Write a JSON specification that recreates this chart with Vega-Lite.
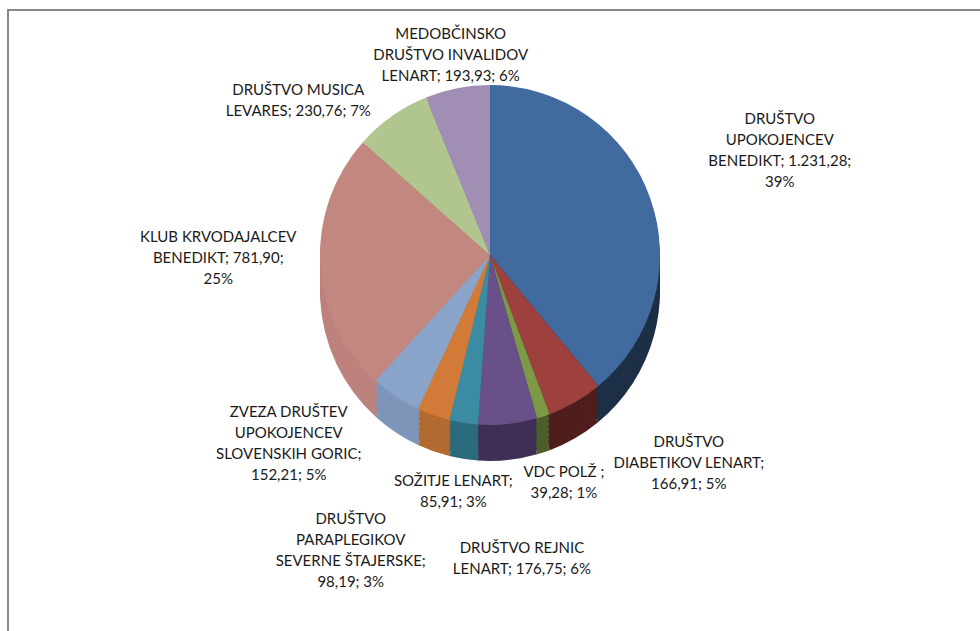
{
  "$schema": "https://vega.github.io/schema/vega-lite/v6.json",
  "autosize": "none",
  "width": 990,
  "height": 640,
  "padding": {"left": 8, "top": 10, "right": 0, "bottom": 0},
  "background": "white",
  "view": {"stroke": "#8a8a8a", "strokeWidth": 2, "fill": "white"},
  "config": {"view": {"stroke": "#8a8a8a", "strokeWidth": 2}},
  "data": {"values": [
    {"i": 1, "k": "a", "value": 1231.28, "label": "DRUŠTVO\nUPOKOJENCEV\nBENEDIKT; 1.231,28;\n39%"},
    {"i": 2, "k": "b", "value": 166.91, "label": "DRUŠTVO\nDIABETIKOV LENART;\n166,91; 5%"},
    {"i": 3, "k": "c", "value": 39.28, "label": "VDC POLŽ ;\n39,28; 1%"},
    {"i": 4, "k": "d", "value": 176.75, "label": "DRUŠTVO REJNIC\nLENART; 176,75; 6%"},
    {"i": 5, "k": "e", "value": 85.91, "label": "SOŽITJE LENART;\n85,91; 3%"},
    {"i": 6, "k": "f", "value": 98.19, "label": "DRUŠTVO\nPARAPLEGIKOV\nSEVERNE ŠTAJERSKE;\n98,19; 3%"},
    {"i": 7, "k": "g", "value": 152.21, "label": "ZVEZA DRUŠTEV\nUPOKOJENCEV\nSLOVENSKIH GORIC;\n152,21; 5%"},
    {"i": 8, "k": "h", "value": 781.90, "label": "KLUB KRVODAJALCEV\nBENEDIKT; 781,90;\n25%"},
    {"i": 9, "k": "j", "value": 230.76, "label": "DRUŠTVO MUSICA\nLEVARES; 230,76; 7%"},
    {"i": 10, "k": "m", "value": 193.93, "label": "MEDOBČINSKO\nDRUŠTVO INVALIDOV\nLENART; 193,93; 6%"}
  ]},
  "encoding": {
    "theta": {"field": "value", "type": "quantitative", "stack": true},
    "order": {"field": "i", "type": "quantitative"}
  },
  "layer": [
    {
      "mark": {"type": "arc", "x": 482, "y": 281, "radius": 170},
      "encoding": {"color": {"field": "k", "type": "nominal", "legend": null,
        "scale": {"domain": ["a","b","c","d","e","f","g","h","j","m"],
                  "range": ["#1d2f46","#4f1d1b","#4d5e2a","#3e2f55","#2b6b7d","#b26a30","#7e95ba","#bd827d","#9aae78","#8a7aa0"]}}}
    },
    {
      "mark": {"type": "arc", "x": 482, "y": 276, "radius": 170},
      "encoding": {"color": {"field": "k", "type": "nominal", "legend": null,
        "scale": {"domain": ["a","b","c","d","e","f","g","h","j","m"],
                  "range": ["#1d2f46","#4f1d1b","#4d5e2a","#3e2f55","#2b6b7d","#b26a30","#7e95ba","#bd827d","#9aae78","#8a7aa0"]}}}
    },
    {
      "mark": {"type": "arc", "x": 482, "y": 271, "radius": 170},
      "encoding": {"color": {"field": "k", "type": "nominal", "legend": null,
        "scale": {"domain": ["a","b","c","d","e","f","g","h","j","m"],
                  "range": ["#1d2f46","#4f1d1b","#4d5e2a","#3e2f55","#2b6b7d","#b26a30","#7e95ba","#bd827d","#9aae78","#8a7aa0"]}}}
    },
    {
      "mark": {"type": "arc", "x": 482, "y": 266, "radius": 170},
      "encoding": {"color": {"field": "k", "type": "nominal", "legend": null,
        "scale": {"domain": ["a","b","c","d","e","f","g","h","j","m"],
                  "range": ["#1d2f46","#4f1d1b","#4d5e2a","#3e2f55","#2b6b7d","#b26a30","#7e95ba","#bd827d","#9aae78","#8a7aa0"]}}}
    },
    {
      "mark": {"type": "arc", "x": 482, "y": 261, "radius": 170},
      "encoding": {"color": {"field": "k", "type": "nominal", "legend": null,
        "scale": {"domain": ["a","b","c","d","e","f","g","h","j","m"],
                  "range": ["#1d2f46","#4f1d1b","#4d5e2a","#3e2f55","#2b6b7d","#b26a30","#7e95ba","#bd827d","#9aae78","#8a7aa0"]}}}
    },
    {
      "mark": {"type": "arc", "x": 482, "y": 256, "radius": 170},
      "encoding": {"color": {"field": "k", "type": "nominal", "legend": null,
        "scale": {"domain": ["a","b","c","d","e","f","g","h","j","m"],
                  "range": ["#1d2f46","#4f1d1b","#4d5e2a","#3e2f55","#2b6b7d","#b26a30","#7e95ba","#bd827d","#9aae78","#8a7aa0"]}}}
    },
    {
      "mark": {"type": "arc", "x": 482, "y": 251, "radius": 170},
      "encoding": {"color": {"field": "k", "type": "nominal", "legend": null,
        "scale": {"domain": ["a","b","c","d","e","f","g","h","j","m"],
                  "range": ["#1d2f46","#4f1d1b","#4d5e2a","#3e2f55","#2b6b7d","#b26a30","#7e95ba","#bd827d","#9aae78","#8a7aa0"]}}}
    },
    {
      "mark": {"type": "arc", "x": 482, "y": 245, "radius": 170},
      "encoding": {"color": {"field": "k", "type": "nominal", "legend": null,
        "scale": {"domain": ["a","b","c","d","e","f","g","h","j","m"],
                  "range": ["#416a9e","#9e413e","#7d9945","#6a5088","#3b8ca2","#d27a38","#8aa3c9","#c2877f","#b0c68e","#a08eb4"]}}}
    },
    {
      "mark": {"type": "text", "x": 482, "y": 245, "radius": 308, "dy": -32, "align": "center", "baseline": "middle", "lineBreak": "\n", "font": "Lato", "fontSize": 15, "lineHeight": 21, "color": "#1a1a1a"},
      "encoding": {"text": {"condition": {"test": "datum.k == 'a'", "field": "label"}, "value": ""}}
    },
    {
      "mark": {"type": "text", "x": 482, "y": 245, "radius": 305, "dy": -10, "align": "center", "baseline": "middle", "lineBreak": "\n", "font": "Lato", "fontSize": 15, "lineHeight": 21, "color": "#1a1a1a"},
      "encoding": {"text": {"condition": {"test": "datum.k == 'd'", "field": "label"}, "value": ""}}
    },
    {
      "mark": {"type": "text", "x": 482, "y": 245, "radius": 237, "dx": 80, "dy": -18, "align": "center", "baseline": "middle", "lineBreak": "\n", "font": "Lato", "fontSize": 15, "lineHeight": 21, "color": "#1a1a1a"},
      "encoding": {"text": {"condition": {"test": "datum.k == 'b'", "field": "label"}, "value": ""}}
    },
    {
      "mark": {"type": "text", "x": 482, "y": 245, "radius": 235, "dy": -6, "align": "center", "baseline": "middle", "lineBreak": "\n", "font": "Lato", "fontSize": 15, "lineHeight": 21, "color": "#1a1a1a"},
      "encoding": {"text": {"condition": {"test": "datum.k == 'c' || datum.k == 'e'", "field": "label"}, "value": ""}}
    },
    {
      "mark": {"type": "text", "x": 482, "y": 245, "radius": 310, "dx": -36, "dy": -28, "align": "center", "baseline": "middle", "lineBreak": "\n", "font": "Lato", "fontSize": 15, "lineHeight": 21, "color": "#1a1a1a"},
      "encoding": {"text": {"condition": {"test": "datum.k == 'f'", "field": "label"}, "value": ""}}
    },
    {
      "mark": {"type": "text", "x": 482, "y": 245, "radius": 222, "dx": -78, "dy": -28, "align": "center", "baseline": "middle", "lineBreak": "\n", "font": "Lato", "fontSize": 15, "lineHeight": 21, "color": "#1a1a1a"},
      "encoding": {"text": {"condition": {"test": "datum.k == 'g'", "field": "label"}, "value": ""}}
    },
    {
      "mark": {"type": "text", "x": 482, "y": 245, "radius": 190, "dx": -82, "dy": -28, "align": "center", "baseline": "middle", "lineBreak": "\n", "font": "Lato", "fontSize": 15, "lineHeight": 21, "color": "#1a1a1a"},
      "encoding": {"text": {"condition": {"test": "datum.k == 'h'", "field": "label"}, "value": ""}}
    },
    {
      "mark": {"type": "text", "x": 482, "y": 245, "radius": 190, "dx": -82, "dy": -10, "align": "center", "baseline": "middle", "lineBreak": "\n", "font": "Lato", "fontSize": 15, "lineHeight": 21, "color": "#1a1a1a"},
      "encoding": {"text": {"condition": {"test": "datum.k == 'j'", "field": "label"}, "value": ""}}
    },
    {
      "mark": {"type": "text", "x": 482, "y": 245, "radius": 205, "dy": -20, "align": "center", "baseline": "middle", "lineBreak": "\n", "font": "Lato", "fontSize": 15, "lineHeight": 21, "color": "#1a1a1a"},
      "encoding": {"text": {"condition": {"test": "datum.k == 'm'", "field": "label"}, "value": ""}}
    }
  ],
  "resolve": {"scale": {"color": "independent"}}
}
